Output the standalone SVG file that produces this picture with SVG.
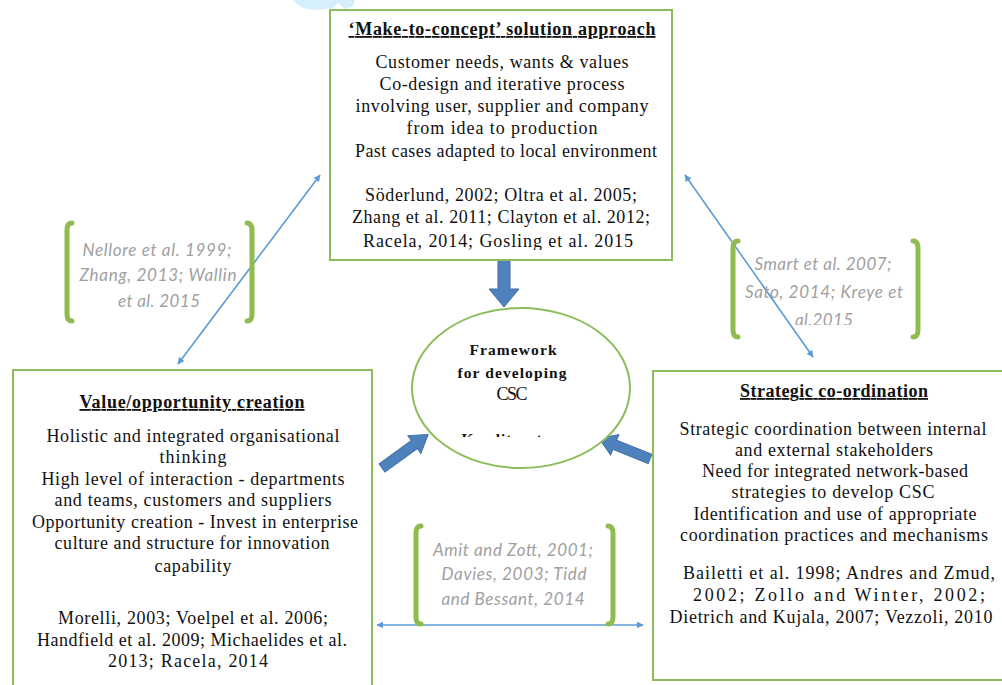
<svg xmlns="http://www.w3.org/2000/svg" width="1002" height="685" viewBox="0 0 1002 685">
<style>
.box{fill:#fff;stroke:#8cbd5a;stroke-width:2}
.t{font-family:'Liberation Serif','Times New Roman',serif;font-size:18px;fill:#111;text-anchor:middle}
.h{font-weight:bold;text-decoration:underline}
.c{font-family:Lato,'Liberation Sans',sans-serif;font-style:italic;font-size:17px;fill:#a0a0a0;text-anchor:middle}
.br{fill:none;stroke:#8fbc4f;stroke-width:5;stroke-linecap:round}
.thin{stroke:#5b9bd5;stroke-width:1.6;fill:none;marker-start:url(#ah);marker-end:url(#ah)}
.blk{fill:#4f81bd;stroke:#3f6fa3;stroke-width:1}
</style>
<defs>
<marker id="ah" viewBox="0 0 10 10" refX="9" refY="5" markerWidth="7" markerHeight="7" markerUnits="userSpaceOnUse" orient="auto-start-reverse">
<path d="M0,0 L10,5 L0,10 Z" fill="#5b9bd5"/>
</marker>
<clipPath id="cTop"><rect x="330" y="10" width="342" height="240"/></clipPath>
<clipPath id="cEll"><rect x="400" y="300" width="240" height="137"/></clipPath>
<clipPath id="cL"><rect x="60" y="200" width="200" height="107"/></clipPath>
<clipPath id="cR"><rect x="730" y="230" width="200" height="95"/></clipPath>
</defs>
<rect width="1002" height="685" fill="#fff"/>
<path d="M293,0 Q300,10 318,10 L333,8 L338,3 L345,9 L353,6 L355,0 Z" fill="#d6f0fb"/>

<g id="connectors">
<line class="thin" x1="320" y1="175" x2="178" y2="364"/>
<line class="thin" x1="685" y1="175" x2="813" y2="357"/>
<line class="thin" x1="377" y1="625" x2="643" y2="625"/>
<polygon class="blk" points="498,260 510,260 510,289 519,289 504,307 489,289 498,289"/>
<polygon class="blk" transform="translate(382,468) rotate(-36)" points="0,-5 40,-5 40,-11 57,0 40,11 40,5 0,5"/>
<polygon class="blk" transform="translate(650,459) rotate(-158)" points="0,-5 38,-5 38,-11 55,0 38,11 38,5 0,5"/>
</g>

<g id="node-top">
<rect class="box" x="330" y="10" width="342" height="250"/>
<text class="t h" x="502" y="35" textLength="307" lengthAdjust="spacing">‘Make-to-concept’ solution approach</text>
<g clip-path="url(#cTop)">
<text class="t" x="502" y="68" textLength="253" lengthAdjust="spacing">Customer needs, wants &amp; values</text>
<text class="t" x="502" y="90" textLength="245" lengthAdjust="spacing">Co-design and iterative process</text>
<text class="t" x="502" y="112" textLength="293" lengthAdjust="spacing">involving user, supplier and company</text>
<text class="t" x="502" y="134" textLength="191" lengthAdjust="spacing">from idea to production</text>
<text class="t" x="506" y="157" textLength="302" lengthAdjust="spacing">Past cases adapted to local environment</text>
<text class="t" x="501" y="201" textLength="272" lengthAdjust="spacing">Söderlund, 2002; Oltra et al. 2005;</text>
<text class="t" x="501" y="223" textLength="298" lengthAdjust="spacing">Zhang et al. 2011; Clayton et al. 2012;</text>
<text class="t" x="498" y="247" textLength="270" lengthAdjust="spacing">Racela, 2014; Gosling et al. 2015</text>
</g>
</g>

<g id="node-center">
<ellipse cx="521" cy="388" rx="109" ry="80" fill="#fff" stroke="#8cbd5a" stroke-width="2"/>
<text class="t" x="513" y="355" font-weight="bold" style="font-size:15.5px" textLength="87" lengthAdjust="spacing">Framework</text>
<text class="t" x="512" y="378" font-weight="bold" style="font-size:15.5px" textLength="109" lengthAdjust="spacing">for developing</text>
<text class="t" x="512" y="400" textLength="31" lengthAdjust="spacing">CSC</text>
<text class="t" x="514" y="444" font-weight="bold" style="font-size:15.5px" textLength="105" lengthAdjust="spacing" clip-path="url(#cEll)">Key literature</text>
</g>

<g id="node-left">
<rect class="box" x="13" y="370" width="359" height="330"/>
<text class="t h" x="192" y="408" textLength="225" lengthAdjust="spacing">Value/opportunity creation</text>
<text class="t" x="193" y="442" textLength="293" lengthAdjust="spacing">Holistic and integrated organisational</text>
<text class="t" x="193" y="463" textLength="67" lengthAdjust="spacing">thinking</text>
<text class="t" x="193" y="485" textLength="303" lengthAdjust="spacing">High level of interaction - departments</text>
<text class="t" x="193" y="506" textLength="277" lengthAdjust="spacing">and teams, customers and suppliers</text>
<text class="t" x="195" y="528" textLength="326" lengthAdjust="spacing">Opportunity creation - Invest in enterprise</text>
<text class="t" x="192" y="549" textLength="275" lengthAdjust="spacing">culture and structure for innovation</text>
<text class="t" x="193" y="572" textLength="77" lengthAdjust="spacing">capability</text>
<text class="t" x="193" y="624" textLength="270" lengthAdjust="spacing">Morelli, 2003; Voelpel et al. 2006;</text>
<text class="t" x="192" y="646" textLength="310" lengthAdjust="spacing">Handfield et al. 2009; Michaelides et al.</text>
<text class="t" x="188" y="667" textLength="160" lengthAdjust="spacing">2013; Racela, 2014</text>
</g>

<g id="node-right">
<rect class="box" x="653" y="371" width="360" height="309"/>
<text class="t h" x="834" y="397" textLength="188" lengthAdjust="spacing">Strategic co-ordination</text>
<text class="t" x="833" y="435" textLength="307" lengthAdjust="spacing">Strategic coordination between internal</text>
<text class="t" x="834" y="456" textLength="198" lengthAdjust="spacing">and external stakeholders</text>
<text class="t" x="835" y="477" textLength="266" lengthAdjust="spacing">Need for integrated network-based</text>
<text class="t" x="833" y="498" textLength="203" lengthAdjust="spacing">strategies to develop CSC</text>
<text class="t" x="835" y="520" textLength="283" lengthAdjust="spacing">Identification and use of appropriate</text>
<text class="t" x="834" y="541" textLength="308" lengthAdjust="spacing">coordination practices and mechanisms</text>
<text class="t" x="839" y="579" textLength="312" lengthAdjust="spacing">Bailetti et al. 1998; Andres and Zmud,</text>
<text class="t" x="839" y="601" textLength="292" lengthAdjust="spacing">2002; Zollo and Winter, 2002;</text>
<text class="t" x="831" y="623" textLength="323" lengthAdjust="spacing">Dietrich and Kujala, 2007; Vezzoli, 2010</text>
</g>

<g id="cite-left">
<path class="br" d="M72,223 Q67,223 67,230 L67,314 Q67,321 72,321"/>
<path class="br" d="M247,223 Q252,223 252,230 L252,314 Q252,321 247,321"/>
<g clip-path="url(#cL)">
<text class="c" x="157" y="256" textLength="149" lengthAdjust="spacing">Nellore et al. 1999;</text>
<text class="c" x="158" y="281" textLength="157" lengthAdjust="spacing">Zhang, 2013; Wallin</text>
<text class="c" x="159" y="307" textLength="82" lengthAdjust="spacing">et al. 2015</text>
</g>
</g>

<g id="cite-right">
<path class="br" d="M738,241 Q733,241 733,248 L733,330 Q733,337 738,337"/>
<path class="br" d="M913,241 Q918,241 918,248 L918,330 Q918,337 913,337"/>
<g clip-path="url(#cR)">
<text class="c" x="823" y="270" textLength="137" lengthAdjust="spacing">Smart et al. 2007;</text>
<text class="c" x="824" y="298" textLength="158" lengthAdjust="spacing">Sato, 2014; Kreye et</text>
<text class="c" x="824" y="326" textLength="58" lengthAdjust="spacing">al.2015</text>
</g>
</g>

<g id="cite-bottom">
<path class="br" d="M421,526 Q416,526 416,533 L416,617 Q416,624 421,624"/>
<path class="br" d="M608,526 Q613,526 613,533 L613,617 Q613,624 608,624"/>
<text class="c" x="513" y="556" textLength="160" lengthAdjust="spacing">Amit and Zott, 2001;</text>
<text class="c" x="514" y="580" textLength="145" lengthAdjust="spacing">Davies, 2003; Tidd</text>
<text class="c" x="513" y="605" textLength="143" lengthAdjust="spacing">and Bessant, 2014</text>
</g>
</svg>
